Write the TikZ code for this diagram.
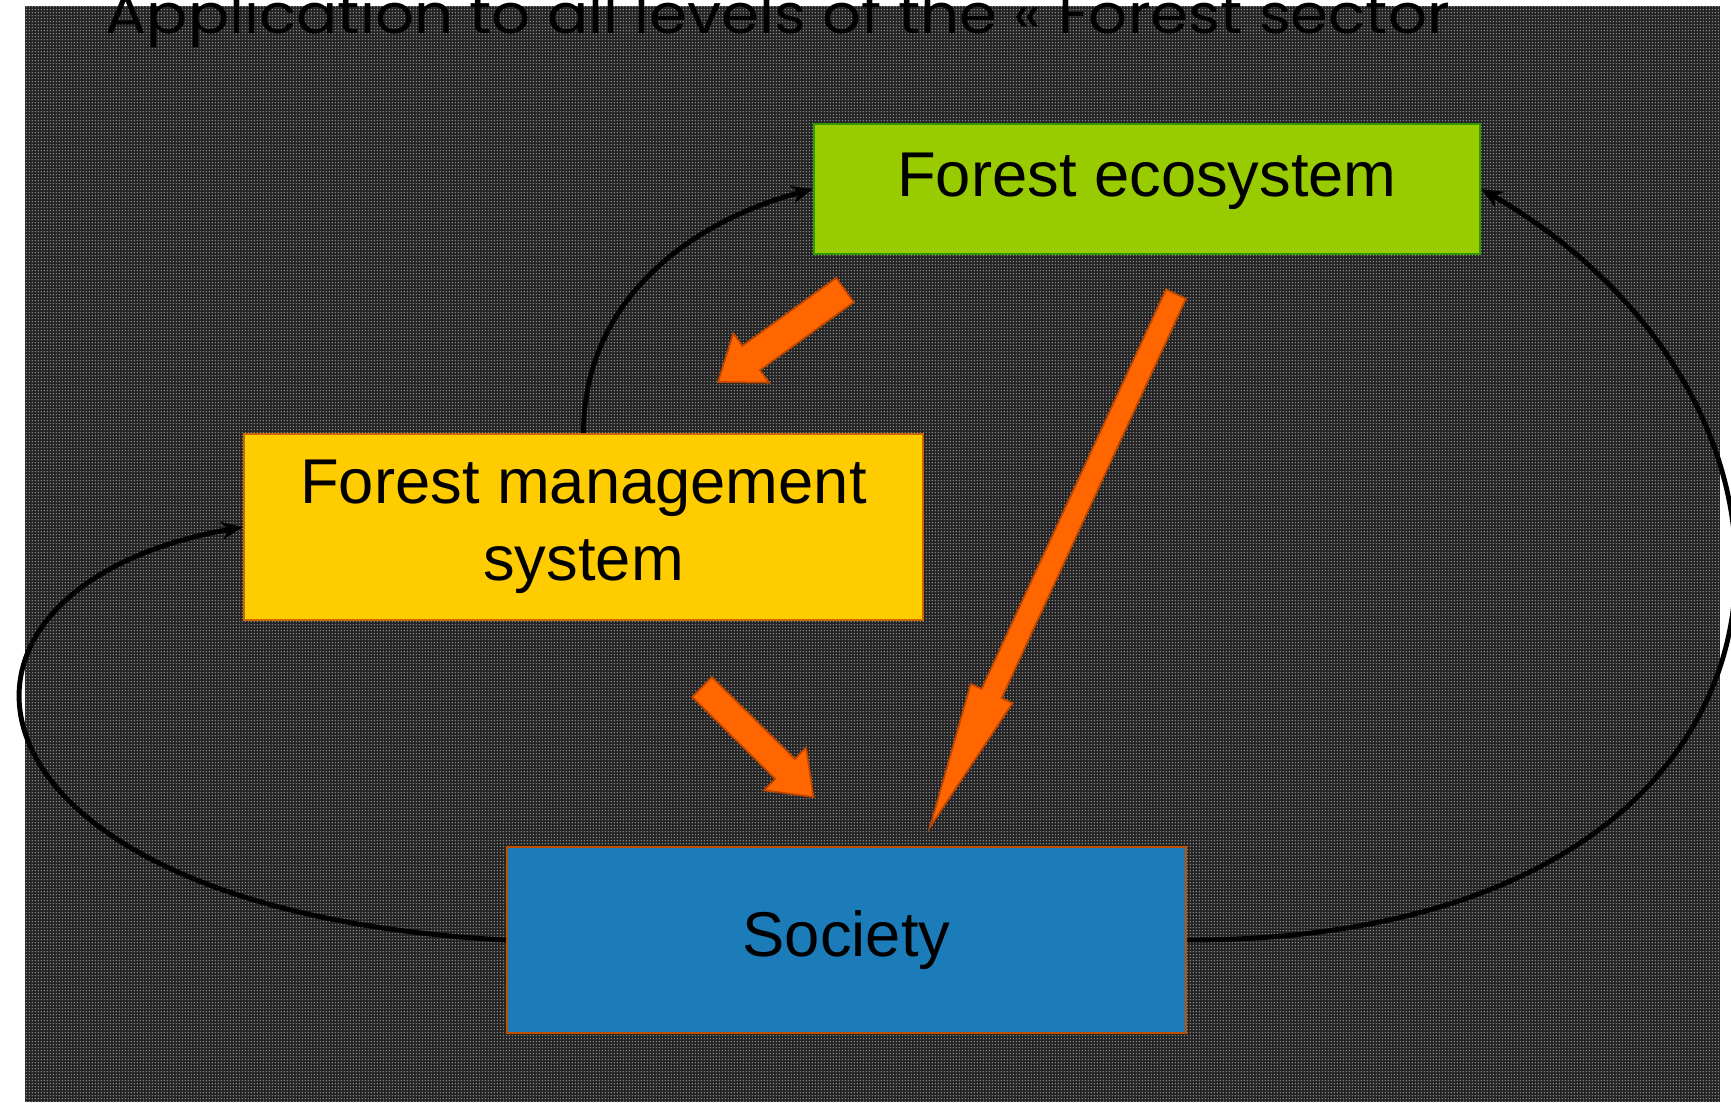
\documentclass[tikz,border=0pt]{standalone}
\usepackage{fontspec}
\setmainfont{Liberation Sans}
\newfontfamily\titlefont{Poppins}
\usepackage{tikz}
\usetikzlibrary{calc,arrows.meta,patterns}
\definecolor{ecogreen}{RGB}{153,204,0}
\definecolor{ecoedge}{RGB}{51,153,0}
\definecolor{mgmtyellow}{RGB}{255,204,0}
\definecolor{mgmtedge}{RGB}{204,102,0}
\definecolor{socblue}{RGB}{28,124,186}
\definecolor{socedge}{RGB}{192,80,0}
\definecolor{flowfill}{RGB}{255,102,0}
\definecolor{flowedge}{RGB}{190,70,0}
\definecolor{backdrop}{RGB}{36,36,36}
\definecolor{dotgray}{RGB}{170,170,170}
\pgfdeclarepatternformonly{fine dots}{\pgfpointorigin}{\pgfqpoint{0.9pt}{0.9pt}}{\pgfqpoint{0.9pt}{0.9pt}}{\pgfpathcircle{\pgfqpoint{0.45pt}{0.45pt}}{0.25pt}\pgfusepath{fill}}
\tikzset{
	sector/.style={draw, line width=0.6pt, minimum width=6.79cm, minimum height=1.86cm, inner sep=0pt, font=\fontsize{18}{22}\selectfont, align=center},
	feedback/.style={line width=1.4pt, -{Stealth[length=6pt,width=5pt]}},
	flow/.style={fill=flowfill, draw=flowedge, line width=0.5pt, line join=miter}
}
\begin{document}
\begin{tikzpicture}[x=0.01cm,y=-0.01cm]
		\useasboundingbox (0,0) rectangle (1731,1102);
		\fill[backdrop] (25,6) rectangle (1720,1102);
		\fill[pattern=fine dots, pattern color=dotgray] (25,6) rectangle (1720,1102);
		\node[anchor=base west, inner sep=0pt, xscale=1.12, font=\titlefont\fontsize{15.5}{18}\selectfont] (title) at (105,33) {Application to all levels of the « Forest sector};
		
		\node[sector, fill=ecogreen, draw=ecoedge, minimum width=6.66cm, minimum height=1.30cm, text height=13pt, text depth=8.8pt] (eco) at (1147,189) {Forest ecosystem};
		\node[sector, fill=mgmtyellow, draw=mgmtedge] (fms) at (583.5,527) {Forest management\\system};
		\node[sector, fill=socblue, draw=socedge] (soc) at (846.5,940) {Society};
		
		% feedback loops
		\draw[feedback] (fms.north) to[out=90,in=195] (eco.west);
		\draw[feedback] (soc.west) to[out=177,in=190,out looseness=2.95,in looseness=1.85] (fms.west);
		\draw[feedback] (soc.east) to[out=0,in=330,out looseness=2.06,in looseness=1.43] (eco.east);
		
		% block arrows
		\coordinate (e2m-s) at (845,290);
		\coordinate (e2m-t) at (718,382);
		\coordinate (e2s-s) at (1176,294);
		\coordinate (e2s-t) at (930,827);
		\coordinate (m2s-s) at (702,687);
		\coordinate (m2s-t) at (813.5,797);
		\foreach \s/\t/\sw/\hw/\hl in {e2m-s/e2m-t/.15/.305/.41, e2s-s/e2s-t/.11/.23/1.47, m2s-s/m2s-t/.14/.30/.40}
		{
			\coordinate (h) at ($(\t)!\hl cm!(\s)$);
			\draw[flow] ($(\s)!\sw cm!90:(\t)$) -- ($(h)!\sw cm!90:(\t)$) -- ($(h)!\hw cm!90:(\t)$) -- (\t)
			-- ($(h)!\hw cm!-90:(\t)$) -- ($(h)!\sw cm!-90:(\t)$) -- ($(\s)!\sw cm!-90:(\t)$) -- cycle;
		}
	\end{tikzpicture}
\end{document}
